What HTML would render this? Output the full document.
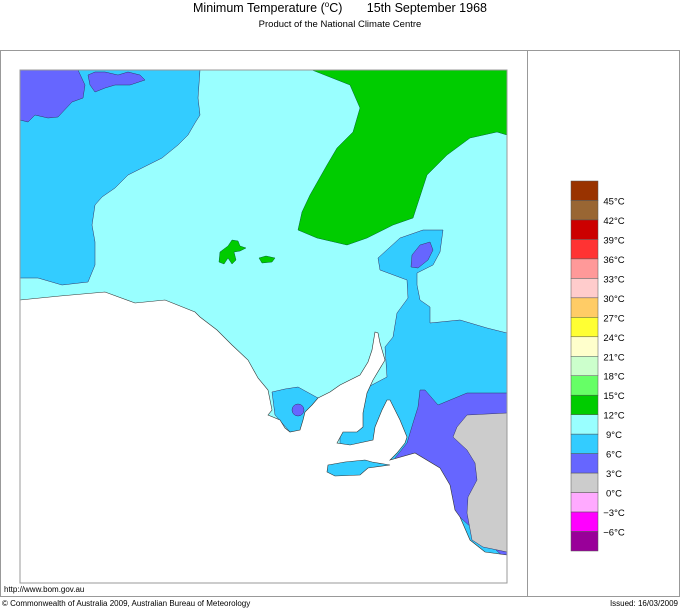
<!DOCTYPE html>
<html><head><meta charset="utf-8"><style>
body{margin:0;background:#fff;}
svg{display:block;font-family:"Liberation Sans",Arial,sans-serif;}
</style></head><body>
<svg id="chart" width="680" height="608" viewBox="0 0 680 608">
<text x="193" y="12" font-size="12.5">Minimum Temperature (<tspan font-size="8" dy="-5">o</tspan><tspan dy="5">C)</tspan></text>
<text x="487" y="12" font-size="12.5" text-anchor="end">15th September 1968</text>
<text x="340" y="27" text-anchor="middle" font-size="9.5">Product of the National Climate Centre</text>
<rect x="0.5" y="50.5" width="679" height="546" fill="none" stroke="#999"/>
<line x1="527.5" y1="50" x2="527.5" y2="597" stroke="#999"/>
<g>
<rect x="20" y="70" width="487" height="513" fill="#99ffff"/>
<polygon fill="#33ccff" stroke="#336" stroke-width="0.5" points="20,70 200,70 198,98 200,115 195,123 188,135 178,145 162,158 148,165 128,175 115,188 102,197 95,205 92,225 95,242 95,265 88,282 62,285 38,278 20,278"/>
<polygon fill="#6666ff" stroke="#336" stroke-width="0.5" points="20,70 78,70 85,85 83,98 72,102 58,117 48,118 35,115 28,122 20,120"/>
<polygon fill="#6666ff" stroke="#336" stroke-width="0.5" points="88,75 95,72 105,72 118,75 128,72 140,75 145,80 130,85 115,85 105,88 95,92 90,85"/>
<polygon fill="#00cc00" stroke="#063" stroke-width="0.5" points="312,70 350,85 360,108 353,132 337,148 327,165 310,195 302,212 298,230 317,238 347,245 367,238 393,225 413,218 427,175 447,155 470,138 497,132 507,135 507,70"/>
<path fill="#00cc00" stroke="#063" stroke-width="0.5" d="M220,252 L228,246 L232,240 L238,241 L240,246 L246,248 L240,251 L234,252 L236,260 L232,264 L228,258 L224,264 L219,262 Z M259,258 L266,256 L275,258 L272,262 L262,263 Z"/>
<polygon fill="#33ccff" stroke="#336" stroke-width="0.5" points="378,258 400,238 423,230 443,230 440,252 433,265 417,273 417,285 420,300 430,307 430,323 460,320 487,328 507,333 507,560 340,560 340,430 368,387 387,377 385,347 393,337 397,313 408,298 407,280 380,270"/>
<polygon fill="#6666ff" stroke="#336" stroke-width="0.5" points="412,255 420,245 430,242 433,250 428,260 418,268 411,267"/>
<polygon fill="#6666ff" stroke="#336" stroke-width="0.5" points="420,390 425,390 438,405 467,393 507,393 507,560 395,458 407,443 413,423 418,407"/>
<polygon fill="#cccccc" stroke="#336" stroke-width="0.5" points="467,415 507,413 507,552 483,547 472,540 467,513 468,497 477,480 475,463 467,450 453,437 457,427"/>
<polygon fill="#33ccff" stroke="#336" stroke-width="0.5" points="272,392 285,389 298,387 318,398 310,412 305,430 290,432 275,415"/>
<ellipse cx="298" cy="410" rx="6" ry="6" fill="#6666ff" stroke="#336" stroke-width="0.5"/>
<polygon fill="#fff" stroke="#333" stroke-width="0.6" points="20,300 60,296 105,292 135,303 165,300 195,312 200,317 217,330 232,345 248,360 258,378 268,390 270,400 272,410 268,415 280,420 285,428 290,432 300,430 303,420 305,412 312,405 318,398 330,392 340,385 360,375 368,362 372,350 375,332 378,333 380,343 385,360 373,380 367,393 363,413 363,427 357,432 343,432 337,443 350,445 373,440 375,427 382,410 387,400 390,400 400,420 407,437 405,443 397,453 390,460 415,453 440,468 450,485 455,510 460,517 470,540 485,552 507,555 507,583 20,583"/>
<polygon fill="#33ccff" stroke="#333" stroke-width="0.6" points="328,465 345,462 365,460 372,462 390,465 368,468 360,475 335,476 327,472"/>
<rect x="20" y="70" width="487" height="513" fill="none" stroke="#999" stroke-width="1"/>
</g>
<g id="legend"></g>
<text x="4" y="592" font-size="8">http://www.bom.gov.au</text>
<text x="2" y="606" font-size="8">© Commonwealth of Australia 2009, Australian Bureau of Meteorology</text>
<text x="678" y="606" font-size="8" text-anchor="end">Issued: 16/03/2009</text>
</svg>
<script>
const legendColors=["#993300","#996633","#cc0000","#ff3333","#ff9999","#ffcccc","#ffcc66","#ffff33","#ffffcc","#ccffcc","#66ff66","#00cc00","#99ffff","#33ccff","#6666ff","#cccccc","#ffaaff","#ff00ff","#990099"];
const legendLabels=["45","42","39","36","33","30","27","24","21","18","15","12","9","6","3","0","-3","-6"];
const ns="http://www.w3.org/2000/svg";
const lg=document.getElementById("legend");
const top0=181,bh=370/legendColors.length;
legendColors.forEach((c,i)=>{
  const r=document.createElementNS(ns,"rect");
  r.setAttribute("x",571);r.setAttribute("y",top0+i*bh);
  r.setAttribute("width",27);r.setAttribute("height",bh);
  r.setAttribute("fill",c);r.setAttribute("stroke","#555");r.setAttribute("stroke-width","0.5");
  
  
  lg.appendChild(r);
});
legendLabels.forEach((l,i)=>{
  const t=document.createElementNS(ns,"text");
  t.setAttribute("x",614);t.setAttribute("y",top0+(i+1)*bh+4);
  t.setAttribute("font-size","9.5");t.setAttribute("text-anchor","middle");
  t.textContent=l.replace("-","\u2212")+"\u00B0C";
  
  
  lg.appendChild(t);
});
</script>
</body></html>
